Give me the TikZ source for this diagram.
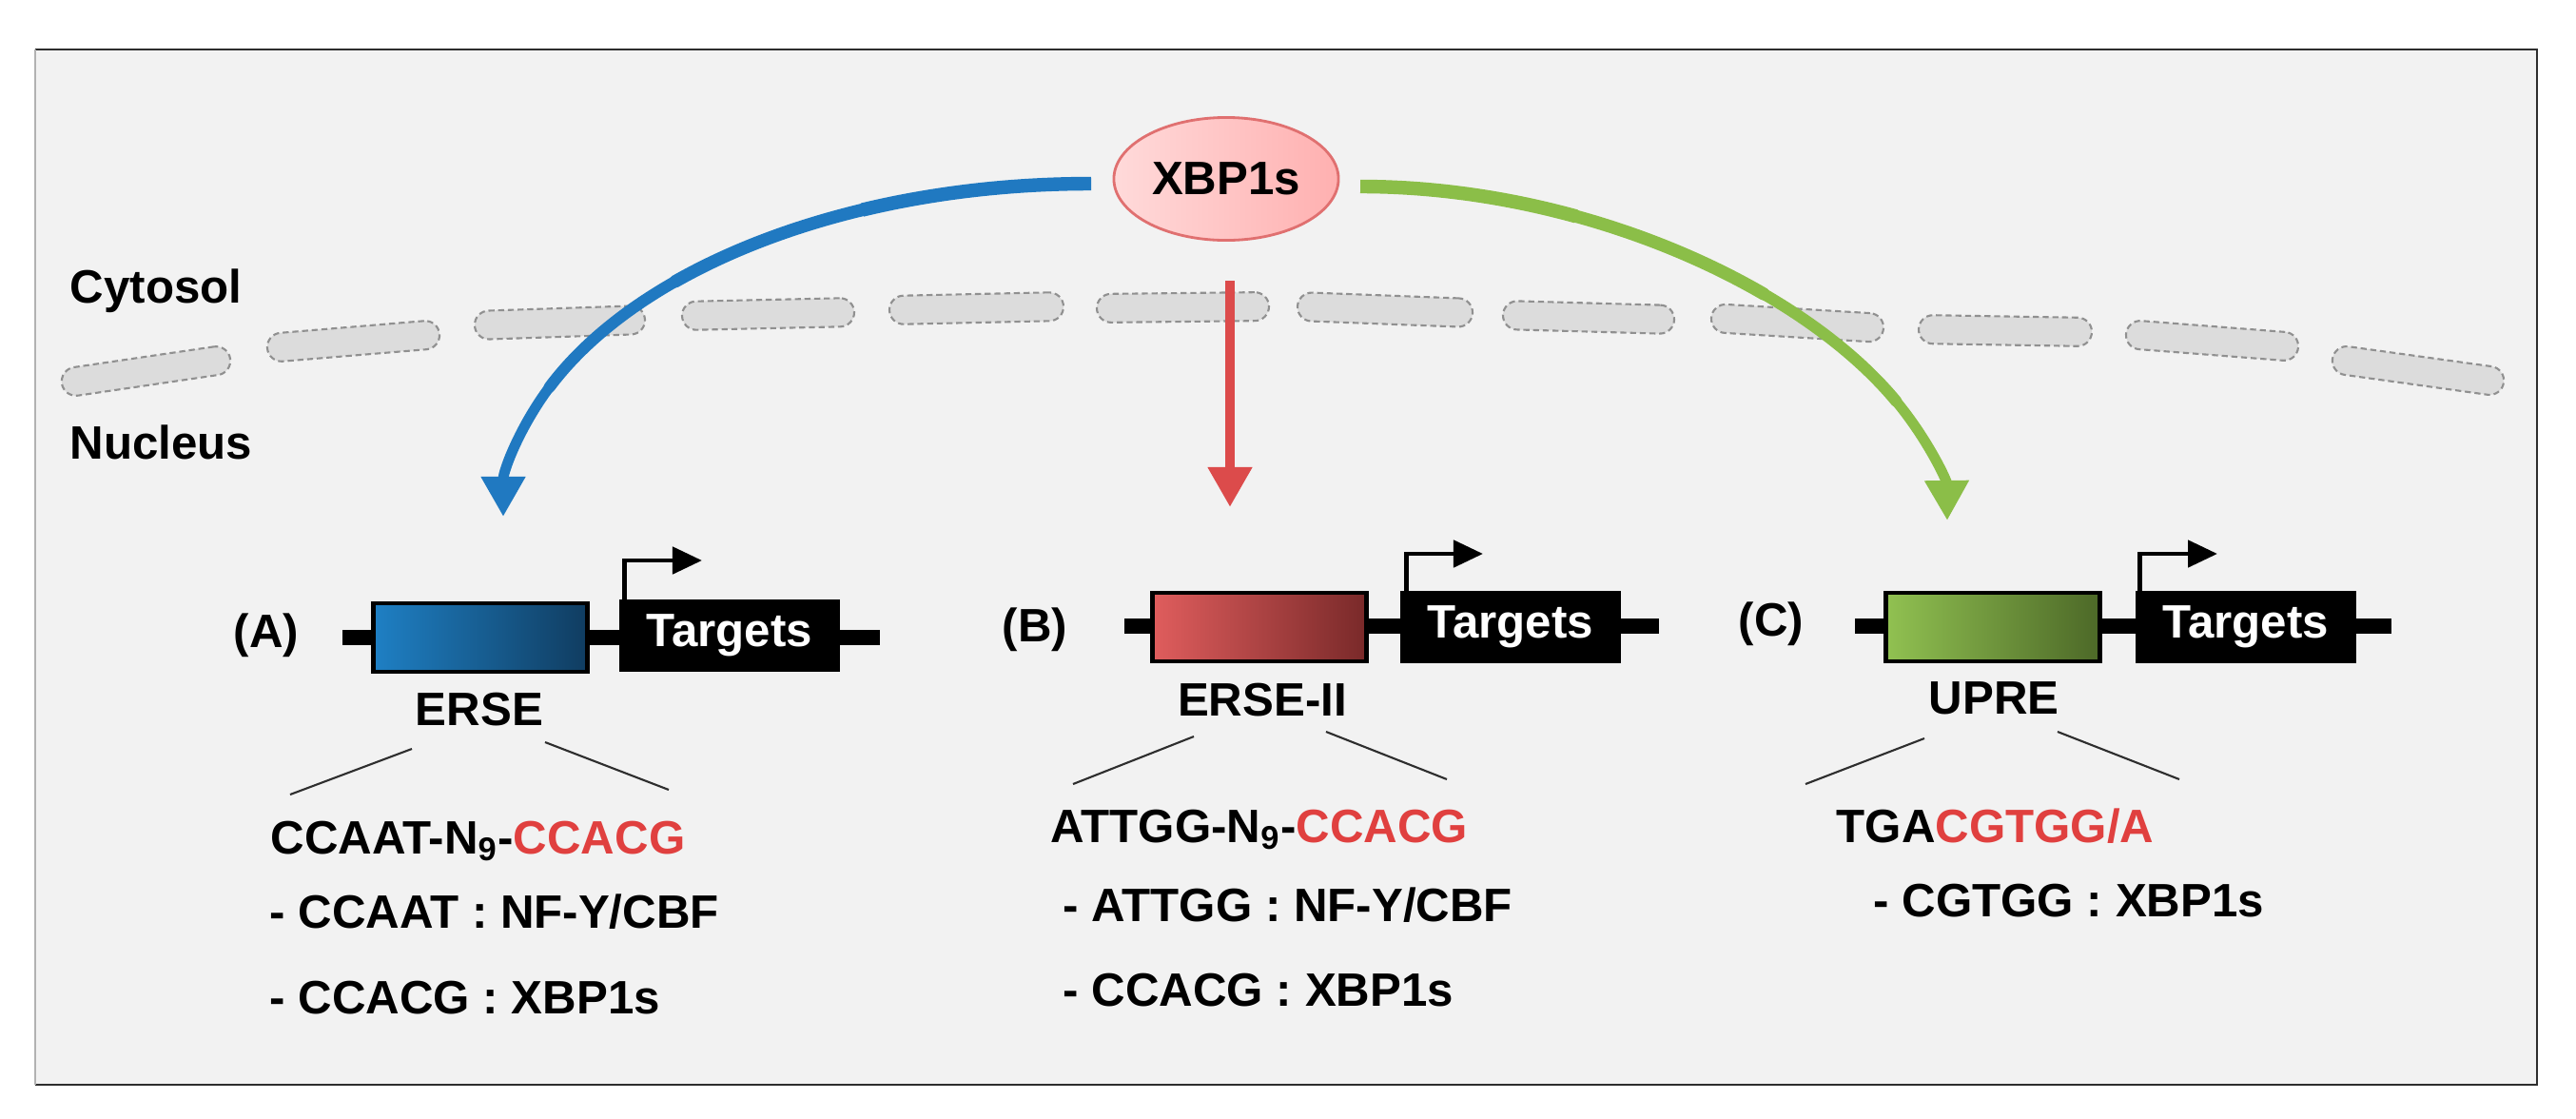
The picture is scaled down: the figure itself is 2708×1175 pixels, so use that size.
\documentclass[tikz,border=0pt]{standalone}
\usepackage{fontspec}
\setmainfont{Liberation Sans}
\usetikzlibrary{calc,arrows.meta,shapes.geometric}
\definecolor{bgc}{HTML}{F2F2F2}
\definecolor{framec}{HTML}{2E2E2E}
\definecolor{memfill}{HTML}{DCDCDC}
\definecolor{memline}{HTML}{909090}
\definecolor{bluec}{HTML}{2079C1}
\definecolor{greenc}{HTML}{8BBE48}
\definecolor{redc}{HTML}{DC4B4B}
\definecolor{redtxt}{HTML}{E0403F}
\definecolor{pinkA}{HTML}{FFDADA}
\definecolor{pinkB}{HTML}{FFB0B0}
\definecolor{pinkline}{HTML}{E07070}
\newcommand\MemSeg[5]{%
  \path let \p1=(#2,#3), \p2=(#4,#5),
    \n1={atan2(\y2-\y1,\x2-\x1)}, \n2={veclen(\x2-\x1,\y2-\y1)} in
    node[memseg, minimum width=\n2, rotate=\n1] (#1) at ($(\p1)!0.5!(\p2)$) {};}
\tikzset{
  txt/.style={font=\fontsize{14}{16}\selectfont\bfseries, inner sep=0pt},
  memseg/.style={draw=memline, fill=memfill, line width=0.6pt,
    dash pattern=on 1.8pt off 1.1pt, rounded corners=0.15cm,
    minimum height=0.30cm, inner sep=0pt},
  dna/.style={line width=4.5pt, black},
  elembox/.style={draw=black, line width=1.4pt, minimum width=2.24cm,
    minimum height=0.72cm, inner sep=0pt},
  tgtbox/.style={draw=black, fill=black, line width=1.4pt, minimum width=2.26cm,
    minimum height=0.72cm, inner sep=0pt, text=white,
    font=\fontsize{14}{16}\selectfont\bfseries},
  prom/.style={line width=1.4pt, black, -{Triangle[length=0.31cm,width=0.28cm]}},
  tipped/.style={-{Triangle[length=0.42cm,width=0.44cm]}},
  wA/.style={line width=4.1pt},
  wB/.style={line width=3.8pt, line cap=round},
  wC/.style={line width=3.45pt, line cap=round},
  wD/.style={line width=3.1pt, line cap=round},
  slant/.style={line width=0.6pt, draw=framec},
}
\begin{document}
\begin{tikzpicture}[x=0.01cm,y=-0.01cm]
\useasboundingbox (0,0) rectangle (2708,1175);
% frame
\fill[bgc] (37,52) rectangle (2667,1140);
\draw[framec, line width=0.8pt] (37,52) -- (2667,52) -- (2667,1140) -- (37,1140);
\draw[black!30, line width=0.8pt] (37,52) -- (37,1140);

% membrane
\MemSeg{m1}{65}{403}{242}{377}
\MemSeg{m2}{281}{366}{462}{351}
\MemSeg{m3}{499}{342}{678}{336}
\MemSeg{m4}{717}{332}{898}{328}
\MemSeg{m5}{935}{326}{1118}{322}
\MemSeg{m6}{1153}{324}{1334}{322}
\MemSeg{m7}{1364}{322}{1548}{329}
\MemSeg{m8}{1580}{331}{1760}{336}
\MemSeg{m9}{1799}{334}{1980}{345}
\MemSeg{m10}{2017}{346}{2199}{349}
\MemSeg{m11}{2235}{351}{2416}{365}
\MemSeg{m12}{2452}{377}{2632}{402}

% compartment labels
\node[txt, anchor=base west] (cyt) at (73,318) {Cytosol};
\node[txt, anchor=base west] (nuc) at (73,482) {Nucleus};

% XBP1s
\node[ellipse, draw=pinkline, line width=0.8pt, left color=pinkA, right color=pinkB,
  minimum width=2.36cm, minimum height=1.29cm, txt] (xbp) at (1289,188) {XBP1s};

% main arrows (tapered: drawn in four consecutive pieces)
\coordinate (bs) at (1147,193);
\coordinate (b1) at (906.58,220.55);
\coordinate (b2) at (710.13,295.63);
\coordinate (b3) at (577.61,406.89);
\coordinate (be) at (529,543);
\draw[bluec, wD, tipped] (b3) .. controls (546.31,448.75) and (529,494.75) .. (be);
\draw[bluec, wC] (b2) .. controls (654.19,327.31) and (608.91,365.03) .. (b3);
\draw[bluec, wB] (b1) .. controls (832.66,238.28) and (766.06,263.94) .. (b2);
\draw[bluec, wA] (bs) .. controls (1061.75,193) and (980.5,202.81) .. (b1);

\coordinate (gs) at (1430,196);
\coordinate (g1) at (1656.91,227.36);
\coordinate (g2) at (1854,308.88);
\coordinate (g3) at (1993.34,421.70);
\coordinate (ge) at (2047,547);
\draw[greenc, wD, tipped] (g3) .. controls (2027.06,462.44) and (2046.5,505.25) .. (ge);
\draw[greenc, wC] (g2) .. controls (1911.63,342.31) and (1959.63,380.97) .. (g3);
\draw[greenc, wB] (g1) .. controls (1729.13,247.22) and (1796.38,275.44) .. (g2);
\draw[greenc, wA] (gs) .. controls (1507.5,196) and (1584.69,207.5) .. (g1);

\coordinate (rs) at (1293,295);
\coordinate (re) at (1293,533);
\draw[redc, line width=3pt, tipped] (rs) -- (re);

% ---------- (A) ----------
\coordinate (dA1) at (360,670);
\coordinate (dA2) at (925,670);
\draw[dna] (dA1) -- (dA2);
\node[elembox, left color=bluec!95!cyan, right color=bluec!50!black] (eA) at (505,670) {};
\node[tgtbox] (tA) at (767,668) {Targets};
\coordinate (pA) at (738,589);
\draw[prom] ([xshift=0.05cm]tA.north west) |- (pA);
\node[txt] (labA) at (280,668) {(A)};
\node[txt, anchor=base] (nA) at (504,762) {ERSE};
\coordinate (sA1) at (433,787); \coordinate (sA2) at (305,835);
\coordinate (sA3) at (573,780); \coordinate (sA4) at (703,830);
\draw[slant] (sA1) -- (sA2);
\draw[slant] (sA3) -- (sA4);
\node[txt, anchor=base west] (qA1) at (284,897) {CCAAT-N\textsubscript{9}-\textcolor{redtxt}{CCACG}};
\node[txt, anchor=base west] (qA2) at (283,975) {- CCAAT : NF-Y/CBF};
\node[txt, anchor=base west] (qA3) at (283,1065) {- CCACG : XBP1s};

% ---------- (B) ----------
\coordinate (dB1) at (1182,658);
\coordinate (dB2) at (1744,658);
\draw[dna] (dB1) -- (dB2);
\node[elembox, left color=redc!90!white, right color=redc!55!black] (eB) at (1324,659) {};
\node[tgtbox] (tB) at (1588,659) {Targets};
\coordinate (pB) at (1559,582);
\draw[prom] ([xshift=0.06cm]tB.north west) |- (pB);
\node[txt] (labB) at (1088,662) {(B)};
\node[txt, anchor=base] (nB) at (1327,752) {ERSE-II};
\coordinate (sB1) at (1255,774); \coordinate (sB2) at (1128,824);
\coordinate (sB3) at (1394,769); \coordinate (sB4) at (1521,819);
\draw[slant] (sB1) -- (sB2);
\draw[slant] (sB3) -- (sB4);
\node[txt, anchor=base west] (qB1) at (1104,885) {ATTGG-N\textsubscript{9}-\textcolor{redtxt}{CCACG}};
\node[txt, anchor=base west] (qB2) at (1117,968) {- ATTGG : NF-Y/CBF};
\node[txt, anchor=base west] (qB3) at (1117,1057) {- CCACG : XBP1s};

% ---------- (C) ----------
\coordinate (dC1) at (1950,658);
\coordinate (dC2) at (2514,658);
\draw[dna] (dC1) -- (dC2);
\node[elembox, left color=greenc!95!white, right color=greenc!55!black] (eC) at (2095,659) {};
\node[tgtbox] (tC) at (2361,659) {Targets};
\coordinate (pC) at (2331,582);
\draw[prom] ([xshift=0.04cm]tC.north west) |- (pC);
\node[txt] (labC) at (1862,656) {(C)};
\node[txt, anchor=base] (nC) at (2096,750) {UPRE};
\coordinate (sC1) at (2023,776); \coordinate (sC2) at (1898,824);
\coordinate (sC3) at (2163,769); \coordinate (sC4) at (2291,819);
\draw[slant] (sC1) -- (sC2);
\draw[slant] (sC3) -- (sC4);
\node[txt, anchor=base west] (qC1) at (1930,885) {TGA\textcolor{redtxt}{CGTGG/A}};
\node[txt, anchor=base west] (qC2) at (1969,963) {- CGTGG : XBP1s};
\end{tikzpicture}
\end{document}
